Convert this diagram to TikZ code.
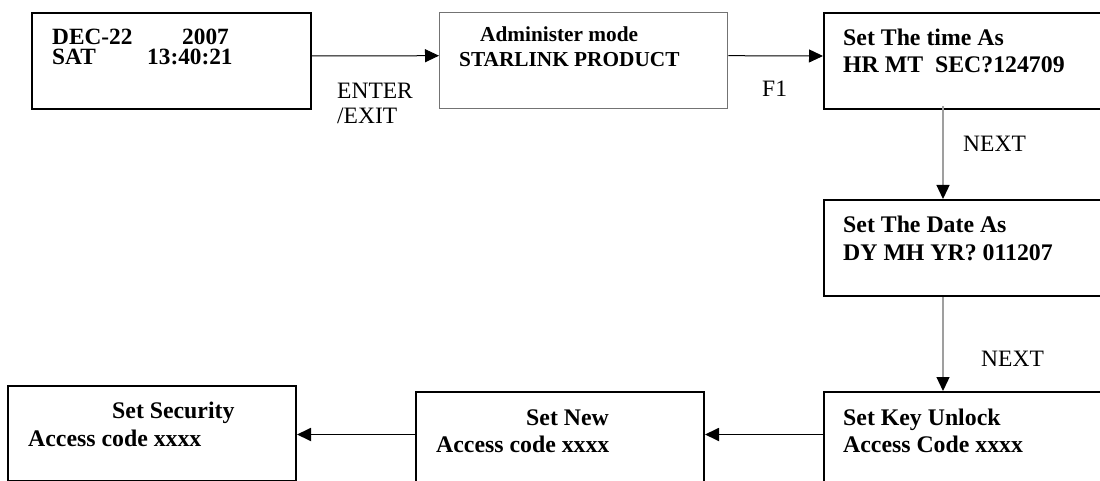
\documentclass[tikz,border=0pt]{standalone}
\usepackage{fontspec}
\setmainfont{Liberation Serif}
\usetikzlibrary{arrows.meta}
\begin{document}
\begin{tikzpicture}[x=1pt,y=-1pt,
  box/.style={draw=black,line width=2pt,rectangle,inner sep=0pt,anchor=north west},
  graybox/.style={box,draw=gray!90!black,line width=1.4pt},
  txt/.style={inner sep=0pt,anchor=base west,font=\fontsize{23.8}{26}\selectfont\bfseries},
  txtb/.style={txt,font=\fontsize{23.3}{26}\selectfont\bfseries},
  txts/.style={txt,font=\fontsize{21.3}{26}\selectfont\bfseries},
  lbl/.style={inner sep=0pt,anchor=base west,font=\fontsize{23.5}{26}\selectfont},
  harrow/.style={draw=black,line width=1pt,-{Triangle[length=14pt,width=13pt]}},
  varrow/.style={draw=gray!75,line width=1.3pt,-{Triangle[length=14pt,width=13pt,fill=black,color=black]}},
  barrow/.style={draw=black,line width=1.8pt,-{Triangle[length=14pt,width=13pt]}}
]
\useasboundingbox (0,0) rectangle (1100,481);
\clip (0,0) rectangle (1100,481);
% boxes
\node[box,minimum width=279pt,minimum height=96pt] (b1) at (31,12) {};
\node[graybox,minimum width=288pt,minimum height=96pt] (b2) at (439,12) {};
\node[box,minimum width=290pt,minimum height=96pt] (b3) at (823,12) {};
\node[box,minimum width=290pt,minimum height=96pt] (b4) at (823,199) {};
\node[box,minimum width=290pt,minimum height=110pt] (b5) at (823,391) {};
\node[box,minimum width=288pt,minimum height=95pt] (b6) at (7,385) {};
\node[box,minimum width=288pt,minimum height=110pt] (b7) at (415,391) {};
% texts
\node[txtb] (t1a) at (52,45) {DEC-22};
\node[txtb] (t1b) at (182,45) {2007};
\node[txtb] (t1c) at (52,64.5) {SAT};
\node[txtb] (t1d) at (147,64.5) {13:40:21};
\node[txts] (t2a) at (480,42) {Administer mode};
\node[txts] (t2b) at (459,67) {STARLINK PRODUCT};
\node[txt] (t3a) at (843,45.5) {Set The time As};
\node[txt] (t3b) at (843,72.5) {HR MT\ \ SEC?124709};
\node[txt] (t4a) at (843,233) {Set The Date As};
\node[txt] (t4b) at (843,260) {DY MH YR? 011207};
\node[txt] (t5a) at (843,425) {Set Key Unlock};
\node[txt] (t5b) at (843,452) {Access Code xxxx};
\node[txt] (t6a) at (112,418) {Set Security};
\node[txt] (t6b) at (28,446) {Access code xxxx};
\node[txt] (t7a) at (526,425) {Set New};
\node[txt] (t7b) at (436,452) {Access code xxxx};
% labels
\node[lbl] (l1) at (337,99) {ENTER};
\node[lbl] (l2) at (337,124) {/EXIT};
\node[lbl] (l3) at (762,97) {F1};
\node[lbl] (l4) at (963,152) {NEXT};
\node[lbl] (l5) at (981,366) {NEXT};
% connectors
\draw[harrow] ([yshift=5pt]b1.east) -- ([yshift=5pt]b2.west);
\draw[harrow] ([yshift=5pt]b2.east) -- ([yshift=5pt]b3.west);
\draw[varrow] ([xshift=120pt,yshift=4pt]b3.south west) -- ([xshift=120pt]b4.north west);
\draw[varrow] ([xshift=120pt]b4.south west) -- ([xshift=120pt]b5.north west);
\draw[barrow] ([yshift=12.5pt]b5.west) -- ([yshift=12.5pt]b7.east);
\draw[barrow] ([yshift=12.5pt]b7.west) -- ([yshift=12.5pt]b7.west -| b6.east);
\end{tikzpicture}
\end{document}
